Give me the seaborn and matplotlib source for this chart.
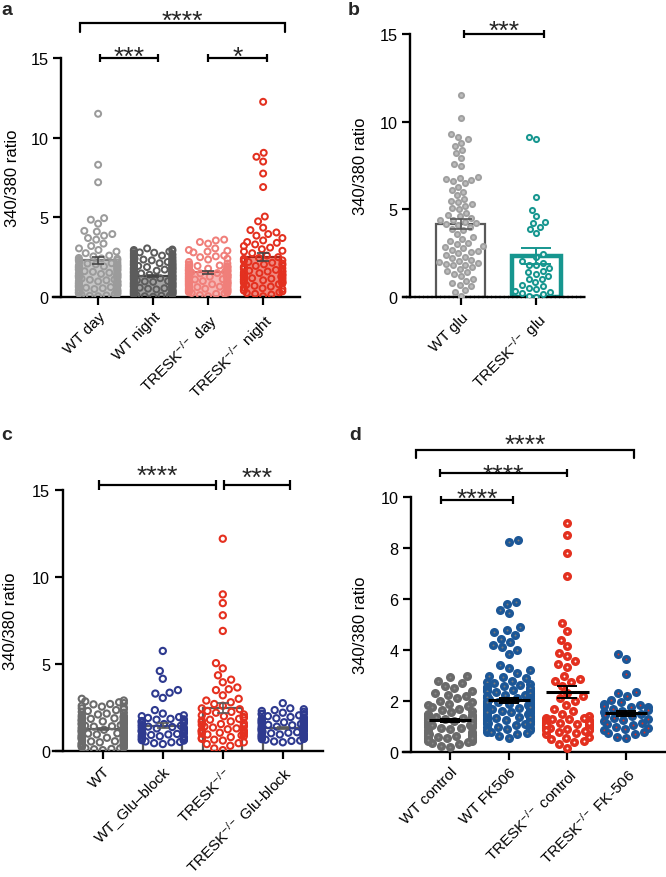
import warnings
warnings.filterwarnings('ignore')
import numpy as np
import pandas as pd
import matplotlib
matplotlib.use('Agg')
import matplotlib.pyplot as plt
import seaborn as sns
import seaborn.categorical as sc

# ----------------------------- data -----------------------------
# panel a
a_groups = ['WT day', 'WT night', 'TRESK day', 'TRESK night']
a_labels = ['WT day', 'WT night', r'TRESK$^{-/-}$ day', r'TRESK$^{-/-}$ night']
a_wt_day = [11.5, 8.3, 7.2, 4.95, 4.85, 4.6, 4.15, 4.1, 3.95, 3.85, 3.7, 3.6, 3.35, 3.2, 3.05,
            2.95, 2.85, 2.75, 2.6, 2.55, 2.45, 2.4, 2.35, 2.3, 2.2, 2.15, 2.1, 2.05, 1.95, 1.9,
            1.85, 1.8, 1.75, 1.7, 1.62, 1.58, 1.5, 1.45, 1.42, 1.35, 1.3, 1.25, 1.2, 1.15, 1.1,
            1.05, 1.0, 0.95, 0.92, 0.85, 0.8, 0.75, 0.7, 0.65, 0.6, 0.55, 0.5, 0.45, 0.42, 0.35,
            0.3, 0.25, 0.2, 0.15, 0.1, 0.05,
            2.42, 2.28, 2.12, 1.98, 1.88, 1.72, 1.66, 1.52, 1.38, 1.28, 1.18, 1.08, 0.98, 0.88,
            0.78, 0.68, 0.58, 0.48, 0.38, 0.28, 0.18, 0.08, 1.92, 1.48, 1.02, 0.62, 0.22, 2.02,
            1.32, 0.72]
a_wt_night = [3.05, 2.98, 2.95, 2.9, 2.88, 2.85, 2.8, 2.78, 2.75, 2.7, 2.65, 2.62, 2.6, 2.55, 2.5,
              2.45, 2.42, 2.4, 2.35, 2.3, 2.28, 2.25, 2.2, 2.15, 2.12, 2.1, 2.05, 2.0, 1.98, 1.95,
              1.9, 1.85, 1.82, 1.8, 1.75, 1.72, 1.7, 1.65, 1.6, 1.58, 1.55, 1.5, 1.48, 1.45, 1.4,
              1.38, 1.35, 1.3, 1.28, 1.25, 1.2, 1.18, 1.15, 1.1, 1.08, 1.05, 1.0, 0.98, 0.95, 0.9,
              0.88, 0.85, 0.8, 0.78, 0.75, 0.7, 0.68, 0.65, 0.6, 0.58, 0.55, 0.5, 0.48, 0.45, 0.4,
              0.38, 0.35, 0.3, 0.28, 0.25, 0.2, 0.18, 0.15, 0.1, 0.08, 0.05,
              2.32, 2.18, 2.08, 1.92, 1.78, 1.68, 1.52, 1.42, 1.32, 1.22, 1.12, 1.02, 0.92, 0.82,
              0.72, 0.62, 0.52, 0.42, 0.32, 0.22, 0.12, 0.02, 2.22, 2.02, 1.88, 1.62, 1.46, 1.34,
              1.16, 0.96, 0.86, 0.66, 0.46, 0.26, 0.16, 1.74, 1.56, 1.06, 0.56, 0.36]
a_tresk_day = [3.6, 3.55, 3.45, 3.35, 3.05, 2.95, 2.9, 2.85, 2.8, 2.6, 2.55, 2.5, 2.4, 2.35, 2.2,
               2.1, 2.05, 2.0, 1.95, 1.9, 1.85, 1.82, 1.78, 1.75, 1.7, 1.65, 1.62, 1.6, 1.55, 1.5,
               1.48, 1.45, 1.4, 1.38, 1.35, 1.3, 1.28, 1.25, 1.2, 1.15, 1.12, 1.1, 1.05, 1.0, 0.98,
               0.95, 0.9, 0.85, 0.82, 0.8, 0.75, 0.7, 0.65, 0.6, 0.55, 0.5, 0.45, 0.4, 0.35, 0.3,
               0.25, 0.2, 0.12, 0.05,
               1.98, 1.92, 1.88, 1.72, 1.68, 1.58, 1.52, 1.42, 1.32, 1.22, 1.18, 1.08, 1.02, 0.92,
               0.88, 0.78, 0.72, 0.62, 0.52, 0.42, 0.32, 0.22, 1.62, 1.46, 1.26, 1.06, 0.86, 0.66,
               0.46, 0.28]
a_tresk_night = [12.25, 9.05, 8.8, 8.5, 7.75, 6.9, 5.05, 4.75, 4.35, 4.2, 4.05, 3.95, 3.85, 3.7,
                 3.55, 3.45, 3.4, 3.3, 3.2, 3.1, 3.0, 2.9, 2.85, 2.75, 2.6, 2.5, 2.45, 2.35, 2.3,
                 2.2, 2.1, 2.05, 2.0, 1.9, 1.85, 1.8, 1.7, 1.65, 1.6, 1.55, 1.5, 1.45, 1.4, 1.35,
                 1.3, 1.25, 1.2, 1.15, 1.1, 1.05, 1.0, 0.95, 0.9, 0.85, 0.8, 0.7, 0.6, 0.5, 0.45,
                 0.35, 0.25, 0.15, 0.05,
                 2.4, 2.25, 2.15, 1.95, 1.75, 1.58, 1.42, 1.28, 1.18, 1.08, 0.98, 0.88, 0.75, 0.65,
                 0.55, 0.4, 0.3, 0.2, 1.62, 1.35, 1.12, 0.92]
a_means = [2.3, 1.3, 1.55, 2.5]
a_sems = [0.22, 0.07, 0.08, 0.25]

# panel b
b_groups = ['WT glu', 'TRESK glu']
b_labels = ['WT glu', r'TRESK$^{-/-}$ glu']
b_wt = [11.5, 10.2, 9.3, 9.15, 9.0, 8.8, 8.6, 8.4, 8.2, 7.9, 7.6, 7.45, 6.85, 6.8, 6.75, 6.7, 6.6,
        6.5, 6.3, 6.1, 6.0, 5.8, 5.6, 5.5, 5.4, 5.3, 5.2, 5.1, 5.0, 4.8, 4.7, 4.6, 4.5, 4.4, 4.4,
        4.3, 4.2, 4.15, 4.1, 4.0, 3.9, 3.8, 3.6, 3.4, 3.3, 3.2, 3.1, 3.0, 2.9, 2.85, 2.8, 2.7, 2.6,
        2.55, 2.5, 2.4, 2.3, 2.2, 2.1, 2.05, 2.0, 1.95, 1.9, 1.85, 1.8, 1.7, 1.6, 1.5, 1.4, 1.3,
        1.2, 1.0, 0.9, 0.8, 0.7, 0.6, 0.4, 0.3, 0.05]
b_tresk = [9.1, 9.0, 5.7, 4.95, 4.6, 4.3, 4.2, 4.0, 3.85, 3.65, 2.45, 2.3, 2.05, 1.95, 1.85, 1.8,
           1.65, 1.5, 1.45, 1.3, 1.2, 1.05, 1.0, 0.85, 0.7, 0.6, 0.5, 0.45, 0.35, 0.3, 0.2, 0.15,
           0.05, 0.0]
b_means = [4.15, 2.35]
b_sems = [0.28, 0.45]

# panel c
c_groups = ['WT', 'WT_Glu-block', 'TRESK', 'TRESK Glu-block']
c_labels = ['WT', 'WT_Glu–block', r'TRESK$^{-/-}$', r'TRESK$^{-/-}$ Glu-block']
c_wt = [3.0, 2.9, 2.85, 2.8, 2.75, 2.7, 2.68, 2.6, 2.55, 2.5, 2.45, 2.4, 2.35, 2.3, 2.25, 2.2, 2.15,
        2.1, 2.05, 2.0, 1.95, 1.9, 1.85, 1.8, 1.75, 1.7, 1.65, 1.6, 1.55, 1.5, 1.45, 1.4, 1.35, 1.3,
        1.25, 1.2, 1.18, 1.15, 1.1, 1.05, 1.0, 0.95, 0.9, 0.85, 0.8, 0.78, 0.75, 0.7, 0.65, 0.6,
        0.55, 0.5, 0.45, 0.4, 0.35, 0.3, 0.25, 0.2, 0.15, 0.1, 0.05, 1.22, 1.02, 0.92, 0.62, 1.42,
        1.62, 1.82, 0.52, 0.32,
        1.92, 1.72, 1.52, 1.32, 1.12, 0.82, 0.72, 0.42, 0.22, 0.12, 1.96, 1.76, 1.56, 1.36, 1.16,
        0.96, 0.76, 0.56, 0.36, 0.16, 1.88, 1.48, 1.08, 0.68, 0.28]
c_wt_glu = [5.75, 4.6, 4.15, 3.5, 3.35, 3.3, 3.05, 2.35, 2.15, 2.05, 2.0, 1.95, 1.9, 1.85, 1.8,
            1.75, 1.7, 1.65, 1.6, 1.55, 1.5, 1.45, 1.4, 1.38, 1.35, 1.3, 1.25, 1.2, 1.15, 1.1, 1.05,
            1.0, 0.98, 0.95, 0.9, 0.85, 0.8, 0.75, 0.7, 0.65, 0.6, 0.55, 0.5, 0.45, 0.4,
            1.82, 1.62, 1.42, 1.22, 1.02, 0.82, 0.62, 1.72, 1.32, 0.92, 0.52, 1.12]
c_tresk = [12.2, 9.0, 8.5, 7.8, 6.9, 5.05, 4.75, 4.35, 4.1, 3.95, 3.65, 3.55, 3.5, 3.2, 3.0, 2.9,
           2.8, 2.7, 2.6, 2.45, 2.4, 2.3, 2.2, 2.1, 2.0, 1.95, 1.9, 1.8, 1.75, 1.7, 1.6, 1.55, 1.5,
           1.45, 1.4, 1.3, 1.25, 1.2, 1.15, 1.1, 1.05, 1.0, 0.95, 0.9, 0.85, 0.8, 0.7, 0.6, 0.5,
           0.4, 0.3, 0.15, 0.05,
           1.85, 1.65, 1.35, 1.18, 0.98, 0.75, 0.65, 0.45, 1.42, 1.08, 2.25, 2.05]
c_tresk_glu = [2.75, 2.45, 2.4, 2.35, 2.3, 2.25, 2.2, 2.15, 2.1, 2.05, 2.0, 1.95, 1.9, 1.85, 1.8,
               1.75, 1.7, 1.65, 1.6, 1.55, 1.5, 1.45, 1.4, 1.35, 1.3, 1.25, 1.2, 1.15, 1.1, 1.05,
               1.0, 0.95, 0.9, 0.85, 0.8, 0.75, 0.7, 0.65, 0.6, 0.55, 0.5, 1.72, 1.52, 1.32, 1.12,
               0.92, 1.62, 1.42, 1.22, 1.02,
               1.92, 1.82, 1.68, 1.58, 1.48, 1.38, 1.28, 1.18, 1.08, 0.98, 0.88, 0.78, 0.68, 0.58,
               1.88, 1.46, 1.26, 0.86, 0.72, 2.12]
c_means = [1.25, 1.45, 2.45, 1.3]
c_sems = [0.06, 0.15, 0.28, 0.06]

# panel d
d_groups = ['WT control', 'WT FK506', 'TRESK control', 'TRESK FK-506']
d_labels = ['WT control', 'WT FK506', r'TRESK$^{-/-}$ control', r'TRESK$^{-/-}$ FK-506']
d_wt_ctrl = [3.0, 2.95, 2.8, 2.7, 2.6, 2.5, 2.4, 2.3, 2.2, 2.1, 2.0, 1.95, 1.9, 1.85, 1.8, 1.7, 1.6,
             1.55, 1.5, 1.45, 1.42, 1.4, 1.38, 1.35, 1.32, 1.3, 1.28, 1.25, 1.22, 1.2, 1.18, 1.15,
             1.12, 1.1, 1.08, 1.05, 1.02, 1.0, 0.98, 0.95, 0.9, 0.85, 0.8, 0.78, 0.75, 0.72, 0.7,
             0.68, 0.65, 0.62, 0.6, 0.58, 0.55, 0.52, 0.5, 0.48, 0.45, 0.42, 0.4, 0.35, 0.3, 0.25,
             0.2,
             1.36, 1.26, 1.16, 1.06, 0.96, 0.66, 0.56, 0.46, 1.46, 1.34, 1.24, 1.14, 1.04, 0.64,
             0.54, 2.25, 1.75, 1.65]
d_wt_fk = [8.3, 8.25, 5.9, 5.8, 5.55, 5.45, 4.9, 4.8, 4.7, 4.6, 4.45, 4.3, 4.2, 4.1, 4.0, 3.85, 3.4,
           3.3, 3.2, 3.1, 3.0, 2.95, 2.9, 2.8, 2.75, 2.7, 2.65, 2.6, 2.55, 2.5, 2.48, 2.45, 2.4,
           2.38, 2.35, 2.3, 2.28, 2.25, 2.2, 2.18, 2.15, 2.1, 2.08, 2.05, 2.0, 1.98, 1.95, 1.92, 1.9,
           1.88, 1.85, 1.82, 1.8, 1.78, 1.75, 1.72, 1.7, 1.68, 1.65, 1.62, 1.6, 1.58, 1.55, 1.52,
           1.5, 1.48, 1.45, 1.42, 1.4, 1.38, 1.35, 1.32, 1.3, 1.28, 1.25, 1.22, 1.2, 1.18, 1.15,
           1.12, 1.1, 1.05, 1.0, 0.95, 0.9, 0.85, 0.8, 0.75, 0.7, 0.62, 0.55,
           2.62, 2.52, 2.42, 2.32, 2.22, 2.12, 2.02, 1.94, 1.84, 1.74, 1.64, 1.54, 1.44, 1.34,
           1.24, 1.14, 1.08, 0.98, 0.88, 0.78, 2.16, 1.96, 1.76, 1.56, 1.36, 1.16]
d_tresk_ctrl = [9.0, 8.5, 7.8, 6.9, 5.05, 4.75, 4.4, 4.15, 3.9, 3.75, 3.55, 3.45, 3.35, 3.0, 2.85,
                2.8, 2.75, 2.6, 2.3, 2.2, 2.1, 2.0, 1.85, 1.7, 1.6, 1.5, 1.4, 1.35, 1.3, 1.28, 1.25,
                1.22, 1.2, 1.18, 1.15, 1.12, 1.1, 1.08, 1.05, 1.02, 1.0, 0.98, 0.95, 0.92, 0.9,
                0.85, 0.8, 0.75, 0.7, 0.6, 0.5, 0.4, 0.3, 0.15,
                1.26, 1.16, 1.06, 0.96, 1.32, 1.14, 1.04, 0.88, 0.82, 0.55, 0.45]
d_tresk_fk = [3.85, 3.65, 3.05, 2.35, 2.3, 2.2, 2.05, 1.95, 1.9, 1.85, 1.8, 1.78, 1.75, 1.7, 1.65,
              1.6, 1.55, 1.5, 1.45, 1.4, 1.35, 1.3, 1.25, 1.2, 1.15, 1.1, 1.05, 1.0, 0.95, 0.9,
              0.85, 0.8, 0.75, 0.7, 0.6, 0.55]
d_means = [1.25, 2.02, 2.35, 1.52]
d_sems = [0.06, 0.08, 0.25, 0.1]

# ----------------------------- style -----------------------------
sns.set_style('ticks')
plt.rcParams['font.family'] = ['Liberation Sans', 'DejaVu Sans']
plt.rcParams['mathtext.fontset'] = 'custom'
plt.rcParams['mathtext.rm'] = 'Liberation Sans'
plt.rcParams['mathtext.it'] = 'Liberation Sans'
plt.rcParams['mathtext.default'] = 'regular'

# swarm spread width (seaborn's beeswarm gutter)
SWARM_WIDTH = [0.7]
_orig_bs_init = sc.Beeswarm.__init__


def _bs_init(self, orient="x", width=0.8, warn_thresh=.05):
    _orig_bs_init(self, orient=orient, width=SWARM_WIDTH[0], warn_thresh=1.0)


sc.Beeswarm.__init__ = _bs_init

W, H = 666, 878
fig = plt.figure(figsize=(W / 100, H / 100), dpi=100)


def px_axes(l, r, t, b):
    return fig.add_axes([l / W, 1 - b / H, (r - l) / W, (b - t) / H])


def swarm(ax, groups, values, face, edge, size, lw, width=0.7):
    SWARM_WIDTH[0] = width
    df = pd.DataFrame({'group': np.repeat(groups, [len(v) for v in values]),
                       'value': np.concatenate([np.asarray(v, float) for v in values])})
    n0 = len(ax.collections)
    sns.swarmplot(data=df, x='group', y='value', order=groups, hue='group', hue_order=groups,
                  palette=dict(zip(groups, edge)), size=size, linewidth=lw,
                  legend=False, ax=ax)
    for coll in ax.collections[n0:]:
        off = coll.get_offsets()
        if len(off) == 0:
            continue
        i = int(round(float(np.mean(off[:, 0]))))
        coll.set_facecolor(face[i])
        coll.set_edgecolor(edge[i])
        coll.set_linewidth(lw)
        coll.set_zorder(3)


def bars(ax, groups, means, face, edge, lw, width=0.65):
    df = pd.DataFrame({'group': groups, 'mean': means})
    n0 = len(ax.patches)
    sns.barplot(data=df, x='group', y='mean', order=groups, hue='group', hue_order=groups,
                palette=dict(zip(groups, edge)), width=width, errorbar=None, legend=False, ax=ax)
    for i, p in enumerate(ax.patches[n0:]):
        p.set_facecolor(face[i])
        p.set_edgecolor(edge[i])
        p.set_linewidth(lw)
        p.set_zorder(1)


def setup(ax, xlim, spine_x, ylim, yticks, labels, ylab_x):
    ax.set_xlim(xlim)
    ax.set_ylim(ylim)
    ax.spines[['top', 'right']].set_visible(False)
    ax.spines['left'].set_position(('data', spine_x))
    for s in ['left', 'bottom']:
        ax.spines[s].set_linewidth(1.7)
        ax.spines[s].set_color('black')
    ax.set_yticks(yticks)
    ax.set_xticks(range(len(labels)))
    ax.set_xticklabels(labels, rotation=45, ha='right', va='top', rotation_mode='anchor',
                       fontsize=11.0)
    ax.tick_params(direction='out', length=6, width=1.6, colors='black', pad=3)
    ax.tick_params(axis='y', labelsize=11.7)
    ax.tick_params(axis='x', pad=3)
    ax.set_xlabel('')
    ax.set_ylabel('340/380 ratio', fontsize=12, color='black')
    ax.yaxis.set_label_coords(ylab_x, 0.5)
    ax.set_facecolor('none')


def bracket_cap(ax, x0, x1, y, h, txt, dy):
    kw = dict(color='black', lw=1.6, clip_on=False, solid_capstyle='butt', zorder=6)
    ax.plot([x0, x1], [y, y], **kw)
    ax.plot([x0, x0], [y - h, y + h], **kw)
    ax.plot([x1, x1], [y - h, y + h], **kw)
    ax.annotate(txt, xy=((x0 + x1) / 2, y), xytext=(0, dy), textcoords='offset points',
                ha='center', va='baseline', fontsize=19, annotation_clip=False)


def bracket_drop(ax, x0, x1, y, ylow, txt, dy):
    ax.plot([x0, x0, x1, x1], [ylow, y, y, ylow], color='black', lw=1.6, clip_on=False,
            solid_joinstyle='miter', zorder=6)
    ax.annotate(txt, xy=((x0 + x1) / 2, y), xytext=(0, dy), textcoords='offset points',
                ha='center', va='baseline', fontsize=19, annotation_clip=False)


# ----------------------------- panel a -----------------------------
ax = px_axes(53, 300, 59, 298)
a_cols = ['#9b9b9b', '#5c5c5c', '#f07f7a', '#e3301f']
a_bar_edge = ['#7d7d7d', '#444444', '#e06a65', '#a8251a']
bars(ax, a_groups, a_means, [c + '90' for c in a_cols], a_bar_edge, 1.6)
swarm(ax, a_groups, [a_wt_day, a_wt_night, a_tresk_day, a_tresk_night],
      ['none'] * 4, a_cols, 4.3, 1.45)
ax.errorbar(range(4), a_means, yerr=a_sems, fmt='none', ecolor='#444444', elinewidth=1.2,
            capsize=4, capthick=1.2, zorder=4)
setup(ax, (-0.82, 3.67), -0.67, (0, 15), [0, 5, 10, 15], a_labels, -0.135)
bracket_drop(ax, -0.33, 3.4, 17.2, 16.63, '****', -3.6)
bracket_cap(ax, 0.04, 1.09, 15.0, 0.28, '***', -4.3)
bracket_cap(ax, 2.0, 3.07, 15.0, 0.28, '*', -4.3)

# ----------------------------- panel b -----------------------------
ax = px_axes(403, 585, 35, 298)
bars(ax, b_groups, b_means, ['white', 'white'], ['#595959', '#16968f'], 0, 0.65)
ax.patches[0].set_linewidth(1.6)
ax.patches[1].set_linewidth(3.2)
swarm(ax, b_groups, [b_wt, b_tresk], ['#bcbcbc', '#e4f3f2'], ['#a0a0a0', '#16968f'], 3.7, 1.4,
      width=0.68)
ax.errorbar([1], [b_means[1]], yerr=[b_sems[1]], fmt='none', ecolor='#16968f', elinewidth=1.4,
            capsize=11, capthick=1.4, zorder=4)
ax.errorbar([0], [b_means[0]], yerr=[b_sems[0]], fmt='none', ecolor='#595959', elinewidth=1.2,
            capsize=8, capthick=1.2, zorder=4)
setup(ax, (-0.77, 1.65), -0.68, (0, 15), [0, 5, 10, 15], b_labels, -0.195)
ax.spines['bottom'].set_linestyle((0, (1.2, 0.6)))
bracket_cap(ax, 0.04, 1.1, 15.0, 0.24, '***', -2.9)

# ----------------------------- panel c -----------------------------
ax = px_axes(53, 323, 491, 752)
c_cols = ['#6b6b6b', '#2e3a8f', '#e5301f', '#2e3a8f']
bars(ax, c_groups, c_means, ['none'] * 4, ['#5a5a5a'] * 4, 1.6)
swarm(ax, c_groups, [c_wt, c_wt_glu, c_tresk, c_tresk_glu], ['none'] * 4, c_cols, 4.5, 1.5)
ax.errorbar(range(4), c_means, yerr=c_sems, fmt='none', ecolor='#5a5a5a', elinewidth=1.2,
            capsize=4, capthick=1.2, zorder=4)
setup(ax, (-0.83, 3.67), -0.67, (0, 15), [0, 5, 10, 15], c_labels, -0.13)
bracket_cap(ax, -0.07, 1.88, 15.3, 0.3, '****', 1.4)
bracket_cap(ax, 2.02, 3.12, 15.3, 0.3, '***', 0.0)

# ----------------------------- panel d -----------------------------
ax = px_axes(403, 665, 498, 753)
d_face = ['#8a8a8a', '#7a7a7a', 'white', '#e3301f']
d_edge = ['#6a6a6a', '#1c5797', '#e3301f', '#1c5797']
swarm(ax, d_groups, [d_wt_ctrl, d_wt_fk, d_tresk_ctrl, d_tresk_fk], d_face, d_edge, 4.0, 2.5,
      width=0.74)
ax.hlines(d_means, np.arange(4) - 0.36, np.arange(4) + 0.36, color='black', lw=2.2, zorder=5)
ax.errorbar(range(4), d_means, yerr=d_sems, fmt='none', ecolor='black', elinewidth=1.4,
            capsize=7, capthick=1.4, zorder=5)
setup(ax, (-0.80, 3.66), -0.66, (0, 10), [0, 2, 4, 6, 8, 10], d_labels, -0.135)
bracket_drop(ax, -0.58, 3.13, 11.84, 11.53, '****', -1.4)
bracket_cap(ax, -0.17, 1.99, 10.94, 0.16, '****', -6.5)
bracket_cap(ax, -0.15, 1.07, 9.88, 0.16, '****', -4.3)

# ----------------------------- panel letters -----------------------------
for x, y, t in [(1, 15, 'a'), (348, 15, 'b'), (1, 440, 'c'), (349, 440, 'd')]:
    fig.text(x / W, 1 - y / H, t, fontsize=14, fontweight='bold', va='baseline', ha='left')

fig.savefig('out.png', dpi=100)
